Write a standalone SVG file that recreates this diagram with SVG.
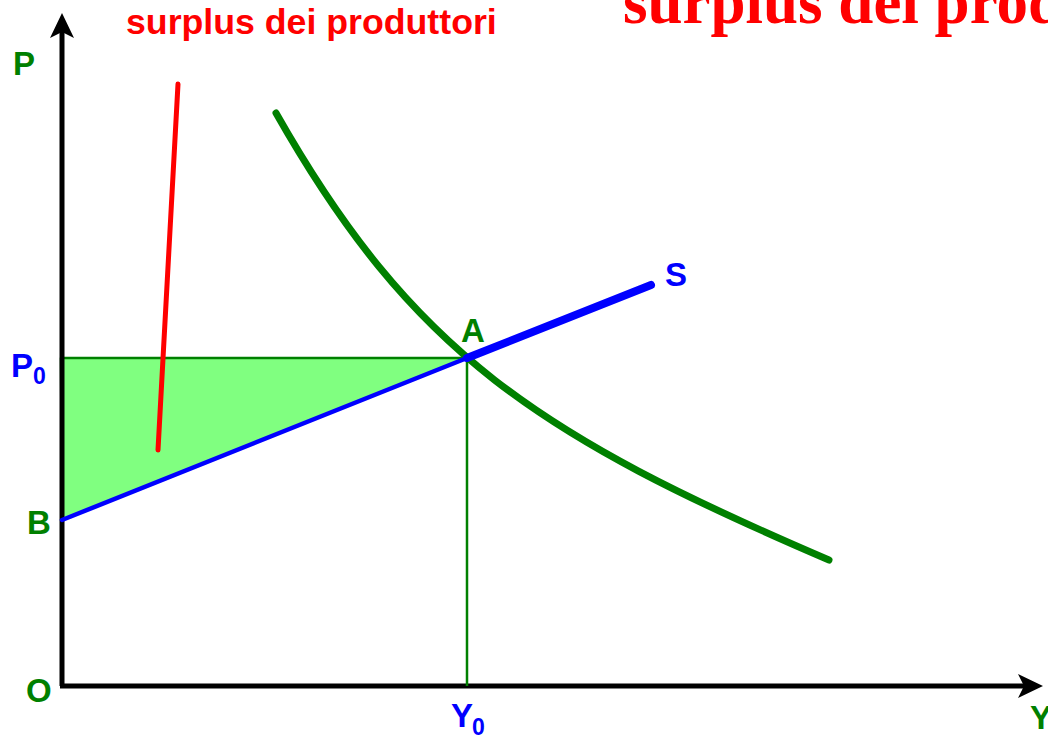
<svg xmlns="http://www.w3.org/2000/svg" width="1048" height="738" viewBox="0 0 1048 738">
  <style>
    .lbl { font-family: "Liberation Sans", Arial, sans-serif; font-weight: bold; font-size: 33px; }
    .sub { font-size: 23px; }
    .green { fill: #008000; }
    .blue { fill: #0000ff; }
    .red { fill: #ff0000; }
    .axis { stroke: #000; stroke-width: 5; fill: none; }
  </style>
  <rect width="1048" height="738" fill="#fff"/>

  <g id="surplus-area">
    <polygon points="61,358 467,358 62,520" fill="#80ff80" stroke="#008000" stroke-width="2.5" stroke-linejoin="round"/>
  </g>

  <g id="axes">
    <line class="axis" x1="62" y1="686" x2="62" y2="30"/>
    <polygon points="62,13 74,38 62,32 50,38" fill="#000"/>
    <line class="axis" x1="60" y1="686" x2="1026" y2="686"/>
    <polygon points="1043,686 1018,674 1024,686 1018,698" fill="#000"/>
  </g>

  <g id="connectors">
    <line id="y0-drop" x1="467" y1="358" x2="467" y2="686" stroke="#008000" stroke-width="2.5"/>
    <path id="demand" d="M276,113 C412.5,353.5 537.8,435.2 829,560" fill="none" stroke="#008000" stroke-width="7" stroke-linecap="round"/>
    <line id="supply-low" x1="62" y1="520" x2="467" y2="358" stroke="#0000ff" stroke-width="4.5" stroke-linecap="round"/>
    <line id="supply-high" x1="467" y1="358" x2="651" y2="285" stroke="#0000ff" stroke-width="8" stroke-linecap="round"/>
    <line id="pointer" x1="178" y1="84" x2="158" y2="450" stroke="#ff0000" stroke-width="5" stroke-linecap="round"/>
  </g>

  <g id="label-P"><text class="lbl green" x="13" y="75">P</text></g>
  <g id="label-P0"><text class="lbl blue" x="11" y="377">P<tspan class="sub" x="33" y="384">0</tspan></text></g>
  <g id="label-B"><text class="lbl green" x="27" y="534">B</text></g>
  <g id="label-O"><text class="lbl green" x="26" y="702">O</text></g>
  <g id="label-A"><text class="lbl green" x="461" y="342">A</text></g>
  <g id="label-S"><text class="lbl blue" x="665" y="286">S</text></g>
  <g id="label-Y0"><text class="lbl blue" x="451" y="727">Y<tspan class="sub" x="472" y="735">0</tspan></text></g>
  <g id="label-Y"><text class="lbl green" x="1030" y="729">Y</text></g>
  <g id="title-small"><text class="lbl red" x="126" y="34" style="font-size:35.7px">surplus dei produttori</text></g>
  <g id="title-big"><text x="623" y="23" fill="#ff0000" style="font-family:'Liberation Serif','Times New Roman',serif;font-weight:bold;font-size:63px">surplus dei prod</text></g>
</svg>
